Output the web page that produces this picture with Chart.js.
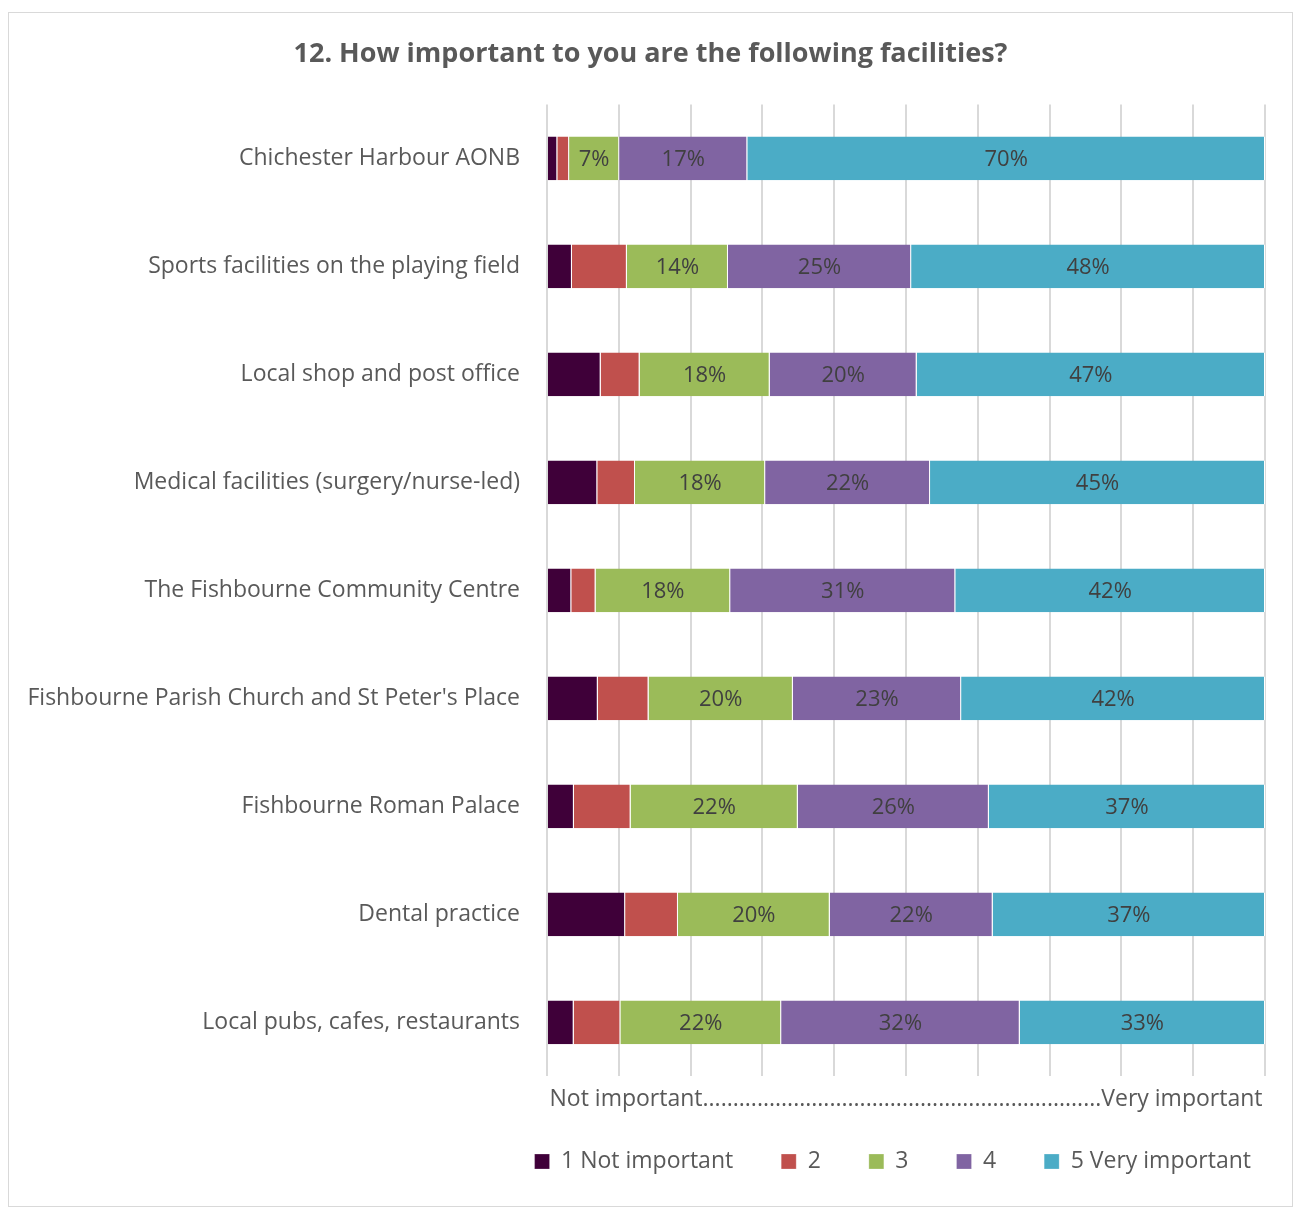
<!DOCTYPE html>
<html>
<head>
<meta charset="utf-8">
<script src="https://cdn.jsdelivr.net/npm/chart.js@4.4.1/dist/chart.umd.min.js"></script>
<style>
  body { margin: 0; background: #fff; }
  #box {
    position: absolute; left: 8px; top: 12px;
    width: 1283px; height: 1193px;
    border: 1px solid #d9d9d9;
  }
</style>
</head>
<body>
<div id="box"><canvas id="grafico"></canvas></div>
<script>
// facilities asked about in question 12
const categorias = [
  'Chichester Harbour AONB',
  'Sports facilities on the playing field',
  'Local shop and post office',
  'Medical facilities (surgery/nurse-led)',
  'The Fishbourne Community Centre',
  "Fishbourne Parish Church and St Peter's Place",
  'Fishbourne Roman Palace',
  'Dental practice',
  'Local pubs, cafes, restaurants'
];

// % of respondents per rating (rows do not add to exactly 100, as in the source)
const nivel1 = [1.4, 3.4, 7.3, 6.8, 3.3, 7.0, 3.6, 10.5, 3.6];
const nivel2 = [1.6, 7.5, 5.3, 5.1, 3.3, 7.0, 7.6, 7.1, 6.3];
const nivel3 = [6.8, 13.8, 17.7, 17.6, 18.3, 19.9, 22.4, 20.4, 21.7];
const nivel4 = [17.4, 25.0, 20.0, 22.3, 30.6, 23.2, 25.6, 21.9, 32.2];
const nivel5 = [70.3, 48.3, 47.4, 45.3, 42.1, 41.9, 37.0, 36.6, 33.1];

const nombres = ['1 Not important', '2', '3', '4', '5 Very important'];
const colores = ['#3f0039', '#c0504d', '#9bbb59', '#8064a2', '#4bacc6'];
const conEtiqueta = [false, false, true, true, true];

const series = [nivel1, nivel2, nivel3, nivel4, nivel5];

// 100% stacked: each bar is scaled to its own total
const totales = categorias.map((_, i) => series.reduce((s, arr) => s + arr[i], 0));

const fuente = "'Open Sans', sans-serif";
const gris = '#595959';

// etiquetas de datos dentro de las barras
const etiquetasPlugin = {
  id: 'etiquetas',
  afterDatasetsDraw(chart) {
    const ctx = chart.ctx;
    ctx.save();
    ctx.font = '22px ' + fuente;
    ctx.fillStyle = '#404040';
    ctx.textAlign = 'center';
    ctx.textBaseline = 'middle';
    chart.data.datasets.forEach((ds, d) => {
      if (!conEtiqueta[d]) return;
      chart.getDatasetMeta(d).data.forEach((bar, i) => {
        const cx = (bar.x + bar.base) / 2;
        ctx.fillText(Math.round(series[d][i]) + '%', cx, bar.y + 1);
      });
    });
    ctx.restore();
  }
};

// corre la leyenda un poco a la derecha
const leyendaPlugin = {
  id: 'correrLeyenda',
  afterLayout(chart) {
    if (!chart.legend) return;
    chart.legend.left += 7;
    chart.legend.right += 7;
  }
};

const ctx = document.getElementById('grafico').getContext('2d');

new Chart(ctx, {
  type: 'bar',
  data: {
    labels: categorias,
    datasets: series.map((arr, d) => ({
      label: nombres[d],
      data: arr.map((v, i) => v / totales[i] * 100),
      backgroundColor: colores[d],
      borderColor: '#ffffff',
      borderWidth: { left: 0, right: 1, top: 0, bottom: 0 },
      borderSkipped: false,
      categoryPercentage: 1,
      barPercentage: 0.405
    }))
  },
  options: {
    indexAxis: 'y',
    responsive: true,
    maintainAspectRatio: false,
    animation: false,
    layout: { padding: { left: 0, right: 0, top: 0, bottom: 23 } },
    plugins: {
      title: {
        display: true,
        text: '12. How important to you are the following facilities?',
        color: gris,
        font: { family: fuente, size: 27, weight: 'bold' },
        padding: { top: 25, bottom: 34 }
      },
      legend: {
        position: 'bottom',
        align: 'end',
        labels: {
          color: gris,
          font: { family: fuente, size: 23 },
          boxWidth: 15,
          boxHeight: 15,
          padding: 48
        }
      },
      tooltip: { enabled: false }
    },
    scales: {
      x: {
        stacked: true,
        min: 0,
        max: 100,
        ticks: { stepSize: 10, display: false },
        grid: { color: '#d9d9d9', lineWidth: 2, drawTicks: false },
        border: { display: false },
        title: {
          display: true,
          text: 'Not important..................................................................Very important',
          color: gris,
          font: { family: fuente, size: 23 },
          padding: { top: 9, bottom: -11 }
        }
      },
      y: {
        stacked: true,
        grid: { display: false, drawTicks: false },
        border: { display: false },
        ticks: { color: gris, font: { family: fuente, size: 23 }, padding: 27 },
        afterFit: (scale) => { scale.width = 538; }
      },
      // empty right-hand axis, only keeps the plot off the right border
      margen: {
        type: 'linear',
        position: 'right',
        ticks: { display: false },
        grid: { display: false, drawTicks: false },
        border: { display: false },
        afterFit: (scale) => { scale.width = 27; }
      }
    }
  },
  plugins: [etiquetasPlugin, leyendaPlugin]
});
</script>
</body>
</html>
